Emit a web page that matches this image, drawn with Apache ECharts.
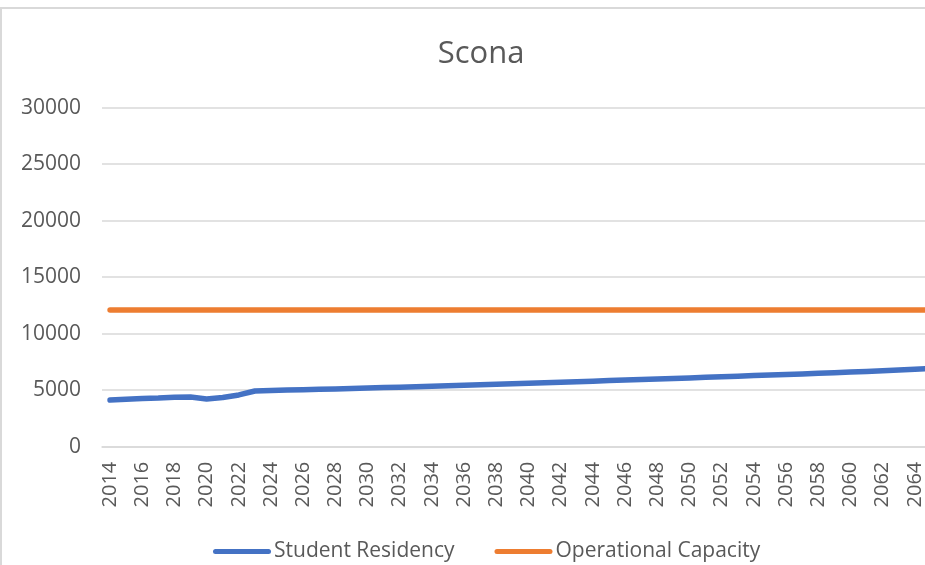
<!DOCTYPE html>
<html>
<head>
<meta charset="utf-8">
<title>Scona</title>
<script src="https://cdn.jsdelivr.net/npm/echarts@6/dist/echarts.min.js"></script>
<style>
  html, body { margin: 0; padding: 0; background: #ffffff; }
  #chart { width: 925px; height: 565px; }
</style>
</head>
<body>
<div id="chart"></div>
<script>
// Years on the category axis
const years = [
  '2014','2015','2016','2017','2018','2019','2020','2021','2022','2023',
  '2024','2025','2026','2027','2028','2029','2030','2031','2032','2033',
  '2034','2035','2036','2037','2038','2039','2040','2041','2042','2043',
  '2044','2045','2046','2047','2048','2049','2050','2051','2052','2053',
  '2054','2055','2056','2057','2058','2059','2060','2061','2062','2063',
  '2064','2065'
];

// Projected student residency per year
const studentResidency = [
  4130, 4200, 4260, 4300, 4380, 4400, 4230, 4350, 4580, 4930,
  4970, 5010, 5050, 5080, 5110, 5150, 5190, 5230, 5270, 5310,
  5360, 5400, 5440, 5490, 5530, 5570, 5620, 5660, 5710, 5750,
  5800, 5850, 5900, 5940, 5990, 6040, 6090, 6140, 6190, 6240,
  6290, 6340, 6390, 6440, 6490, 6550, 6600, 6660, 6720, 6780,
  6850, 6910
];

// Operational capacity of the school (flat)
const operationalCapacity = [
  12100, 12100, 12100, 12100, 12100, 12100, 12100, 12100, 12100, 12100,
  12100, 12100, 12100, 12100, 12100, 12100, 12100, 12100, 12100, 12100,
  12100, 12100, 12100, 12100, 12100, 12100, 12100, 12100, 12100, 12100,
  12100, 12100, 12100, 12100, 12100, 12100, 12100, 12100, 12100, 12100,
  12100, 12100, 12100, 12100, 12100, 12100, 12100, 12100, 12100, 12100,
  12100, 12100
];

const seriesNames = ['Student Residency', 'Operational Capacity'];
const yTicks = { min: 0, max: 30000, step: 5000 };

const FONT = '"Open Sans", "Noto Sans", sans-serif';
const TEXT = '#595959';
const GRID = '#d9d9d9';
const pill = 'path://M2.5,0 L55.5,0 A2.5,2.5 0 0 1 55.5,5 L2.5,5 A2.5,2.5 0 0 1 2.5,0 Z';

const chart = echarts.init(document.getElementById('chart'), null, { renderer: 'canvas' });

chart.setOption({
  animation: false,
  backgroundColor: '#ffffff',
  textStyle: { fontFamily: FONT },
  graphic: [{
    type: 'rect',
    shape: { x: 1, y: 8, width: 1200, height: 1000 },
    style: { fill: 'none', stroke: GRID, lineWidth: 2 },
    silent: true,
    z: -10
  }],
  title: {
    text: 'Scona',
    left: 481,
    top: 39,
    textAlign: 'center',
    padding: 0,
    textStyle: { fontFamily: FONT, fontSize: 31, fontWeight: 'normal', color: TEXT }
  },
  legend: {
    left: 213,
    top: 541,
    padding: 0,
    itemWidth: 58,
    itemHeight: 5,
    itemGap: 40,
    textStyle: { fontFamily: FONT, fontSize: 21, color: TEXT, padding: [0, 0, 0, -2] },
    data: [
      { name: seriesNames[0], icon: pill },
      { name: seriesNames[1], icon: pill }
    ]
  },
  grid: {
    left: 102,
    right: -14,
    top: 107.7,
    bottom: 118.3,
    containLabel: false,
    outerBoundsMode: 'none'
  },
  xAxis: {
    type: 'category',
    data: years,
    boundaryGap: true,
    axisLine: { show: true, lineStyle: { color: GRID, width: 1.5 } },
    axisTick: { show: false },
    axisLabel: {
      interval: 1,
      rotate: 90,
      margin: 15,
      fontFamily: FONT,
      fontSize: 20,
      color: TEXT
    },
    splitLine: { show: false }
  },
  yAxis: {
    type: 'value',
    min: yTicks.min,
    max: yTicks.max,
    interval: yTicks.step,
    axisLine: { show: false },
    axisTick: { show: false },
    axisLabel: {
      margin: 21,
      fontFamily: FONT,
      fontSize: 21,
      color: TEXT,
      formatter: function (v) { return String(v); }
    },
    splitLine: { show: true, lineStyle: { color: GRID, width: 1.5 } }
  },
  series: [
    {
      name: seriesNames[0],
      type: 'line',
      data: studentResidency,
      symbol: 'none',
      lineStyle: { color: '#4472C4', width: 5.5, cap: 'round', join: 'round' },
      itemStyle: { color: '#4472C4' },
      z: 3
    },
    {
      name: seriesNames[1],
      type: 'line',
      data: operationalCapacity,
      symbol: 'none',
      lineStyle: { color: '#ED7D31', width: 5.5, cap: 'round', join: 'round' },
      itemStyle: { color: '#ED7D31' },
      z: 2
    }
  ]
});
</script>
</body>
</html>
